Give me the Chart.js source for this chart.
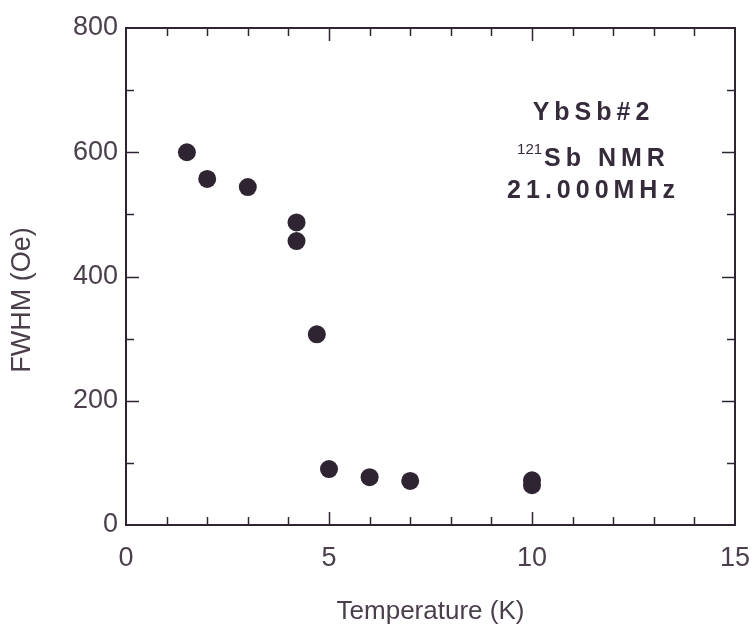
<!DOCTYPE html>
<html>
<head>
<meta charset="utf-8">
<script src="https://cdn.jsdelivr.net/npm/chart.js@4/dist/chart.umd.min.js"></script>
<style>
  html, body { margin: 0; padding: 0; background: #ffffff; }
  #wrap { width: 755px; height: 631px; position: relative; }
</style>
</head>
<body>
<div id="wrap"><canvas id="c" width="755" height="631"></canvas></div>
<script>
// FWHM of the 121Sb NMR line in YbSb versus temperature
const temperatureK = [1.5, 2.0, 3.0, 4.2, 4.2, 4.7, 5.0, 6.0, 7.0, 10.0, 10.0];
const fwhmOe       = [600, 557, 544, 487, 457, 307, 90, 77, 71, 72, 64];

const xTicks = [0, 5, 10, 15];
const yTicks = [0, 200, 400, 600, 800];
const xMinorStep = 1;
const yMinorStep = 100;

const annotationLines = ['YbSb#2', '121Sb NMR', '21.000MHz'];

const INK = '#2f2532';
const TEXT = '#4a3f4b';
const FONT = '"Liberation Sans", Arial, Helvetica, sans-serif';

const points = temperatureK.map((t, i) => ({ x: t, y: fwhmOe[i] }));

// Frame with inward ticks on all four sides, plus the y title and the legend text
const framePlugin = {
  id: 'frame',
  afterDatasetsDraw(chart) {
    const { ctx, chartArea: a, scales: { x, y } } = chart;
    ctx.save();
    ctx.strokeStyle = INK;
    ctx.lineWidth = 2;
    ctx.strokeRect(a.left, a.top, a.right - a.left, a.bottom - a.top);

    ctx.lineWidth = 1.5;
    ctx.beginPath();
    for (let v = x.min; v <= x.max + 1e-9; v += xMinorStep) {
      if (v === x.min || v === x.max) continue;
      const px = Math.round(x.getPixelForValue(v)) + 0.5;
      const len = xTicks.includes(v) ? 13 : 8;
      ctx.moveTo(px, a.bottom); ctx.lineTo(px, a.bottom - len);
      ctx.moveTo(px, a.top); ctx.lineTo(px, a.top + len);
    }
    for (let v = y.min; v <= y.max + 1e-9; v += yMinorStep) {
      if (v === y.min || v === y.max) continue;
      const py = Math.round(y.getPixelForValue(v)) + 0.5;
      const len = yTicks.includes(v) ? 13 : 8;
      ctx.moveTo(a.left, py); ctx.lineTo(a.left + len, py);
      ctx.moveTo(a.right, py); ctx.lineTo(a.right - len, py);
    }
    ctx.stroke();

    // y-axis title
    ctx.fillStyle = TEXT;
    ctx.font = '27px ' + FONT;
    ctx.textAlign = 'center';
    ctx.textBaseline = 'middle';
    ctx.translate(23, 300);
    ctx.rotate(-Math.PI / 2);
    ctx.fillText('FWHM (Oe)', 0, 0);
    ctx.restore();

    // legend text block
    const SP = 5;
    ctx.save();
    ctx.fillStyle = '#352b3a';
    ctx.textBaseline = 'alphabetic';
    ctx.textAlign = 'left';
    const big = 'bold 25px ' + FONT;
    ctx.font = big;
    ctx.letterSpacing = SP + 'px';
    const cx = 591;
    const drawCentered = (txt, yy) => {
      const w = ctx.measureText(txt).width - SP;
      ctx.fillText(txt, cx - w / 2, yy);
    };
    drawCentered(annotationLines[0], 120);
    // "121Sb NMR" with a superscript mass number
    const sup = annotationLines[1].slice(0, 3);
    const rest = annotationLines[1].slice(3);
    const wRest = ctx.measureText(rest).width - SP;
    ctx.font = '15px ' + FONT;
    ctx.letterSpacing = '0px';
    const wSup = ctx.measureText(sup).width + 2;
    const x0 = cx - (wSup + wRest) / 2;
    ctx.fillText(sup, x0, 154);
    ctx.font = big;
    ctx.letterSpacing = SP + 'px';
    ctx.fillText(rest, x0 + wSup, 166);
    drawCentered(annotationLines[2], 198);
    ctx.restore();
  }
};

new Chart(document.getElementById('c'), {
  type: 'scatter',
  data: {
    datasets: [{
      data: points,
      backgroundColor: INK,
      borderColor: INK,
      pointRadius: 9,
      pointHoverRadius: 9,
      borderWidth: 0
    }]
  },
  options: {
    responsive: false,
    animation: false,
    events: [],
    layout: { padding: { left: 0, top: 28, right: 20, bottom: 0 } },
    plugins: { legend: { display: false }, tooltip: { enabled: false } },
    scales: {
      x: {
        type: 'linear',
        min: 0, max: 15,
        afterBuildTicks: s => { s.ticks = xTicks.map(v => ({ value: v })); },
        afterFit: s => { s.height = 106; s.paddingLeft = 0; s.paddingRight = 0; },
        grid: { display: false, drawTicks: false },
        border: { display: false },
        ticks: { color: TEXT, font: { family: FONT, size: 27 }, padding: 17, maxRotation: 0 },
        title: { display: true, text: 'Temperature (K)', color: TEXT, font: { family: FONT, size: 26 }, padding: { top: 10 } }
      },
      y: {
        type: 'linear',
        min: 0, max: 800,
        afterBuildTicks: s => { s.ticks = yTicks.map(v => ({ value: v })); },
        afterFit: s => { s.width = 126; s.paddingTop = 0; s.paddingBottom = 0; },
        grid: { display: false, drawTicks: false },
        border: { display: false },
        ticks: { color: TEXT, font: { family: FONT, size: 27 }, padding: 8 }
      }
    }
  },
  plugins: [framePlugin]
});
</script>
</body>
</html>
